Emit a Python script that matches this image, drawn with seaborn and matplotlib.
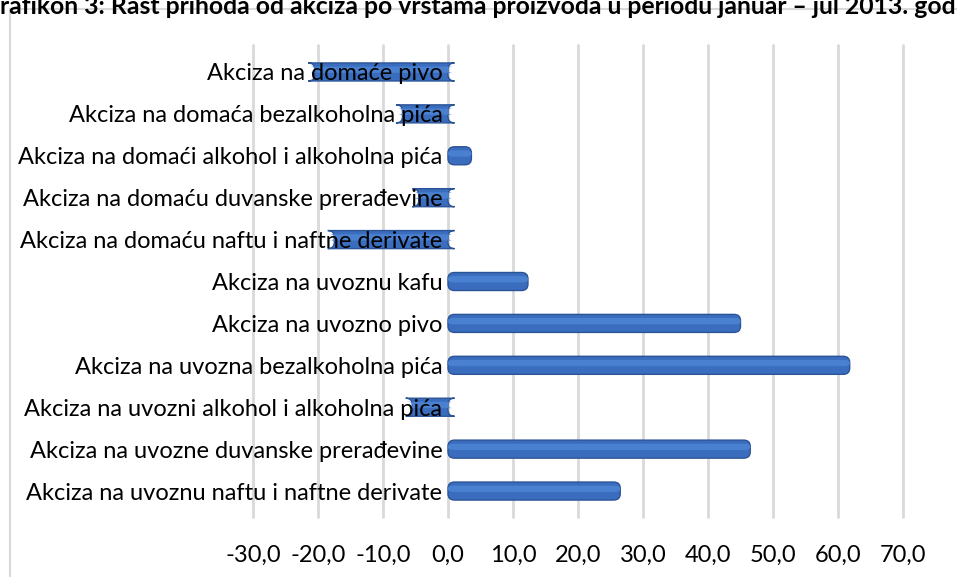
import matplotlib
matplotlib.use("Agg")
import matplotlib.pyplot as plt
import seaborn as sns
import pandas as pd
from matplotlib.patches import FancyBboxPatch, Rectangle
from matplotlib.ticker import FuncFormatter

# Data
categories = [
    "Akciza na domaće pivo",
    "Akciza na domaća bezalkoholna pića",
    "Akciza na domaći alkohol i alkoholna pića",
    "Akciza na domaću duvanske prerađevine",
    "Akciza na domaću naftu i naftne derivate",
    "Akciza na uvoznu kafu",
    "Akciza na uvozno pivo",
    "Akciza na uvozna bezalkoholna pića",
    "Akciza na uvozni alkohol i alkoholna pića",
    "Akciza na uvozne duvanske prerađevine",
    "Akciza na uvoznu naftu i naftne derivate",
]
growth = [-20.5, -7.0, 3.6, -4.5, -17.5, 12.3, 45.0, 61.8, -5.5, 46.5, 26.5]
x_ticks = [-30, -20, -10, 0, 10, 20, 30, 40, 50, 60, 70]
title = "Grafikon 3: Rast prihoda od akciza po vrstama proizvoda u periodu januar – jul 2013. godine"

df = pd.DataFrame({"kategorija": categories, "rast": growth})

sns.set_style("white")
plt.rcParams["font.family"] = ["Lato", "DejaVu Sans"]

fig = plt.figure(figsize=(9.57, 5.77), dpi=100)
ax = fig.add_axes([253 / 957, 1 - 512 / 577, 650 / 957, 461 / 577])

sns.barplot(data=df, y="kategorija", x="rast", orient="h", width=0.43,
            color="#3C6FC0", ax=ax)

# rounded cylinder-like bars
bars = list(ax.patches)
for p in bars:
    x0, y0, w, h = p.get_x(), p.get_y(), p.get_width(), p.get_height()
    p.set_visible(False)
    body = FancyBboxPatch((x0, y0), w, h, boxstyle="round,pad=0,rounding_size=1.0",
                          mutation_aspect=0.15, facecolor="#3A6DBE",
                          edgecolor="#2B5496", linewidth=1.0, zorder=2)
    ax.add_patch(body)
    shine = FancyBboxPatch((x0, y0 + h * 0.2), w, h * 0.35,
                           boxstyle="round,pad=0,rounding_size=0.8",
                           mutation_aspect=0.08, facecolor="#4A80D0",
                           edgecolor="none", zorder=2.1)
    ax.add_patch(shine)

# back-wall gridlines, kept under the bars
for t in x_ticks:
    ax.axvline(t, ymin=-0.01, ymax=1.013, color="#D9D9D9", linewidth=2,
               zorder=0.5, clip_on=False)

ax.set_xlim(-30, 70)
ax.set_ylim(10.5, -0.5)
ax.set_xticks(x_ticks)
ax.xaxis.set_major_formatter(FuncFormatter(lambda v, _: f"{v:.1f}".replace(".", ",")))
ax.grid(False)
ax.set_axisbelow(False)  # category labels sit on top of the bars
for s in ax.spines.values():
    s.set_visible(False)
ax.spines["left"].set_position(("data", 0))
ax.tick_params(axis="y", length=0, pad=4, labelsize=17, colors="black")
ax.tick_params(axis="x", length=0, pad=24, labelsize=17, colors="black")
ax.set_xlabel("")
ax.set_ylabel("")

# chart border and clipped title
fig.patches.append(Rectangle((10 / 957, -0.1), 1.2, 1 - 9 / 577 + 0.1,
                             transform=fig.transFigure, fill=False,
                             edgecolor="#D9D9D9", linewidth=1.5))
fig.text(485 / 957, 1 - 14 / 577, title, ha="center", va="baseline",
         fontsize=17.8, fontweight="bold", color="black")

fig.savefig("out.png", dpi=100)
